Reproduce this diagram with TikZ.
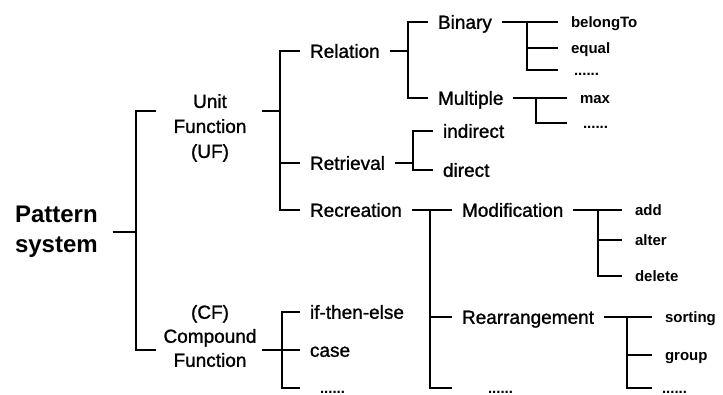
\documentclass[tikz,border=0pt]{standalone}
\usepackage{fontspec}
\setmainfont{Liberation Sans}
\newfontfamily\midfont{Liberation Sans}[FakeBold=1.2]
\usetikzlibrary{positioning}
\tikzset{
	branch/.style={line width=1.2pt},
	rootbox/.style={anchor=west, inner sep=0pt, outer xsep=15pt, align=left, font=\bfseries\fontsize{24}{30}\selectfont},
	fnbox/.style={inner sep=0pt, align=center},
	midlbl/.style={anchor=west, inner sep=0pt, outer xsep=10pt, text height=13.6pt, text depth=0pt, font=\midfont\fontsize{19}{23}\selectfont},
	leaflbl/.style={anchor=west, inner sep=0pt, outer xsep=13pt, text height=10.7pt, text depth=0pt, font=\bfseries\fontsize{15}{18}\selectfont},
	etclbl/.style={leaflbl, outer xsep=#1},
	etclbl/.default=13pt,
}
\begin{document}
\begin{tikzpicture}[x=1pt, y=-1pt]
	\useasboundingbox (0,0) rectangle (723,395);
	% root and the two function groups
	\node[rootbox] (ps) at (0,232) {Pattern\\system};
	\node[fnbox, font=\midfont\fontsize{19}{25}\selectfont] (uf) at (210,128) {Unit\\Function\\(UF)};
	\node[fnbox, font=\midfont\fontsize{19}{24}\selectfont] (cf) at (210,336) {(CF)\\Compound\\Function};
	\coordinate (ufIn) at (156,111);
	\coordinate (ufOut) at (262,111);
	\coordinate (cfIn) at (156,350);
	\coordinate (cfOut) at (262,350);
	% second level
	\node[midlbl] (rel) at (300,51) {Relation};
	\node[midlbl] (ret) at (300,163) {Retrieval};
	\node[midlbl] (rec) at (300,210) {Recreation};
	\node[midlbl] (ite) at (300,312) {if-then-else};
	\node[midlbl] (cas) at (300,350) {case};
	\node[etclbl=20pt] (cfe) at (300,388) {......};
	% third level
	\node[midlbl] (bin) at (428,22) {Binary};
	\node[midlbl] (mul) at (428,98) {Multiple};
	\node[midlbl] (ind) at (433,131) {indirect};
	\node[midlbl] (dir) at (433,170) {direct};
	\node[midlbl] (mod) at (452,210) {Modification};
	\node[midlbl] (rea) at (452,317) {Rearrangement};
	\node[etclbl=36pt] (rde) at (452,388) {......};
	% leaves
	\node[leaflbl] (bel) at (558,22) {belongTo};
	\node[leaflbl] (equ) at (558,48) {equal};
	\node[etclbl=16pt] (bde) at (558,70) {......};
	\node[leaflbl] (mx) at (567,98) {max};
	\node[etclbl=16pt] (mde) at (567,123) {......};
	\node[leaflbl] (add) at (622,210) {add};
	\node[leaflbl] (alt) at (622,240) {alter};
	\node[leaflbl] (del) at (622,276) {delete};
	\node[leaflbl] (srt) at (652,317) {sorting};
	\node[leaflbl] (grp) at (652,355) {group};
	\node[etclbl=10pt] (gde) at (652,388) {......};
	% bracket joints
	\coordinate (jPS) at (136,0);
	\coordinate (jUF) at (280,0);
	\coordinate (jCF) at (282,0);
	\coordinate (jRel) at (408,0);
	\coordinate (jBin) at (527,0);
	\coordinate (jMul) at (536,0);
	\coordinate (jRet) at (413,0);
	\coordinate (jRec) at (430,0);
	\coordinate (jMod) at (598,0);
	\coordinate (jRea) at (627,0);
	% brackets
	\draw[branch] (ps) -- (ps -| jPS);
	\draw[branch] (ufIn) -- (jPS |- ufIn) -- (jPS |- cfIn) -- (cfIn);
	\draw[branch] (ufOut) -- (ufOut -| jUF);
	\draw[branch] (rel.west) -| (jUF |- rec) -- (rec.west);
	\draw[branch] (ret.west) -- (ret -| jUF);
	\draw[branch] (cfOut) -- (cas);
	\draw[branch] (ite.west) -| (jCF |- cfe) -- (cfe.west);
	\draw[branch] (rel) -- (rel -| jRel);
	\draw[branch] (bin.west) -| (jRel |- mul) -- (mul.west);
	\draw[branch] (bin) -- (bel);
	\draw[branch] (bin -| jBin) |- (bde.west);
	\draw[branch] (equ.west) -- (equ -| jBin);
	\draw[branch] (mul) -- (mx);
	\draw[branch] (mul -| jMul) |- (mde.west);
	\draw[branch] (ret) -- (ret -| jRet);
	\draw[branch] (ind.west) -| (jRet |- dir) -- (dir.west);
	\draw[branch] (rec) -- (mod);
	\draw[branch] (rec -| jRec) |- (rde.west);
	\draw[branch] (rea.west) -- (rea -| jRec);
	\draw[branch] (mod) -- (add);
	\draw[branch] (mod -| jMod) |- (del.west);
	\draw[branch] (alt.west) -- (alt -| jMod);
	\draw[branch] (rea) -- (srt);
	\draw[branch] (rea -| jRea) |- (gde.west);
	\draw[branch] (grp.west) -- (grp -| jRea);
\end{tikzpicture}
\end{document}
